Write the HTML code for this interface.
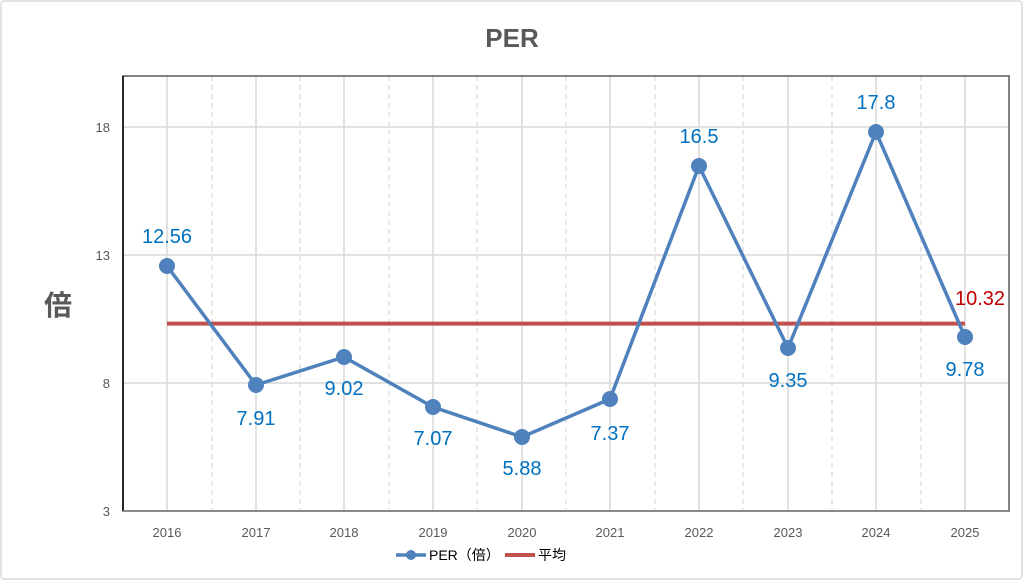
<!DOCTYPE html>
<html><head><meta charset="utf-8"><style>
html,body{margin:0;padding:0;background:#fff;}
svg{display:block;font-family:"Liberation Sans","Noto Sans CJK JP",sans-serif;}
</style></head><body>
<svg width="1024" height="581" viewBox="0 0 1024 581">
<rect x="1" y="1" width="1021" height="578" fill="#fff" stroke="#d9d9d9" stroke-width="1.5" rx="3"/>
<text x="512" y="47" text-anchor="middle" font-size="26" font-weight="bold" fill="#595959">PER</text>
<text x="58" y="315" text-anchor="middle" font-size="28" font-weight="bold" fill="#595959" font-family="Noto Sans CJK JP, sans-serif">倍</text>
<g stroke="#d9d9d9" stroke-width="1.5">
<line x1="123" y1="127" x2="1009" y2="127"/>
<line x1="123" y1="255" x2="1009" y2="255"/>
<line x1="123" y1="383" x2="1009" y2="383"/>
<line x1="167" y1="76" x2="167" y2="511"/><line x1="256" y1="76" x2="256" y2="511"/><line x1="344" y1="76" x2="344" y2="511"/><line x1="433" y1="76" x2="433" y2="511"/><line x1="522" y1="76" x2="522" y2="511"/><line x1="610" y1="76" x2="610" y2="511"/><line x1="699" y1="76" x2="699" y2="511"/><line x1="788" y1="76" x2="788" y2="511"/><line x1="876" y1="76" x2="876" y2="511"/><line x1="965" y1="76" x2="965" y2="511"/>
</g>
<g stroke="#d9d9d9" stroke-width="1.2" stroke-dasharray="5,4">
<line x1="212" y1="76" x2="212" y2="511"/><line x1="300" y1="76" x2="300" y2="511"/><line x1="389" y1="76" x2="389" y2="511"/><line x1="477" y1="76" x2="477" y2="511"/><line x1="566" y1="76" x2="566" y2="511"/><line x1="655" y1="76" x2="655" y2="511"/><line x1="743" y1="76" x2="743" y2="511"/><line x1="832" y1="76" x2="832" y2="511"/><line x1="921" y1="76" x2="921" y2="511"/>
</g>
<rect x="123" y="76" width="886" height="435" fill="none" stroke="#595959" stroke-width="1.5"/>
<line x1="123" y1="76" x2="123" y2="511" stroke="#000" stroke-width="1.5"/>
<line x1="123" y1="511" x2="1009" y2="511" stroke="#7f7f7f" stroke-width="1.5"/>
<g font-size="13" fill="#595959" text-anchor="end">
<text x="110" y="132">18</text><text x="110" y="260">13</text><text x="110" y="388">8</text><text x="110" y="516">3</text>
</g>
<g font-size="13" fill="#595959" text-anchor="middle">
<text x="167" y="537">2016</text><text x="256" y="537">2017</text><text x="344" y="537">2018</text><text x="433" y="537">2019</text><text x="522" y="537">2020</text><text x="610" y="537">2021</text><text x="699" y="537">2022</text><text x="788" y="537">2023</text><text x="876" y="537">2024</text><text x="965" y="537">2025</text>
</g>
<line x1="167" y1="323.6" x2="965" y2="323.6" stroke="#c0504d" stroke-width="4"/>
<polyline fill="none" stroke="#4f81bd" stroke-width="3.5" points="167,266 256,385 344,357 433,407 522,437 610,399 699,166 788,348 876,132 965,337"/>
<g fill="#4f81bd">
<circle cx="167" cy="266" r="8"/><circle cx="256" cy="385" r="8"/><circle cx="344" cy="357" r="8"/><circle cx="433" cy="407" r="8"/><circle cx="522" cy="437" r="8"/><circle cx="610" cy="399" r="8"/><circle cx="699" cy="166" r="8"/><circle cx="788" cy="348" r="8"/><circle cx="876" cy="132" r="8"/><circle cx="965" cy="337" r="8"/>
</g>
<g font-size="20" fill="#0070c0" text-anchor="middle">
<text x="167" y="243">12.56</text><text x="256" y="425">7.91</text><text x="344" y="395">9.02</text><text x="433" y="445">7.07</text><text x="522" y="475">5.88</text><text x="610" y="440">7.37</text><text x="699" y="143">16.5</text><text x="788" y="387">9.35</text><text x="876" y="109">17.8</text><text x="965" y="376">9.78</text>
</g>
<text x="980" y="305" text-anchor="middle" font-size="20" fill="#c00000">10.32</text>
<line x1="396" y1="555" x2="426" y2="555" stroke="#4f81bd" stroke-width="3.5"/>
<circle cx="411" cy="555" r="5" fill="#4f81bd"/>
<text x="429" y="560" font-size="14" fill="#000">PER（倍）</text>
<line x1="505" y1="555" x2="535" y2="555" stroke="#c0504d" stroke-width="4"/>
<text x="538" y="560" font-size="14" fill="#000">平均</text>
</svg>
</body></html>
